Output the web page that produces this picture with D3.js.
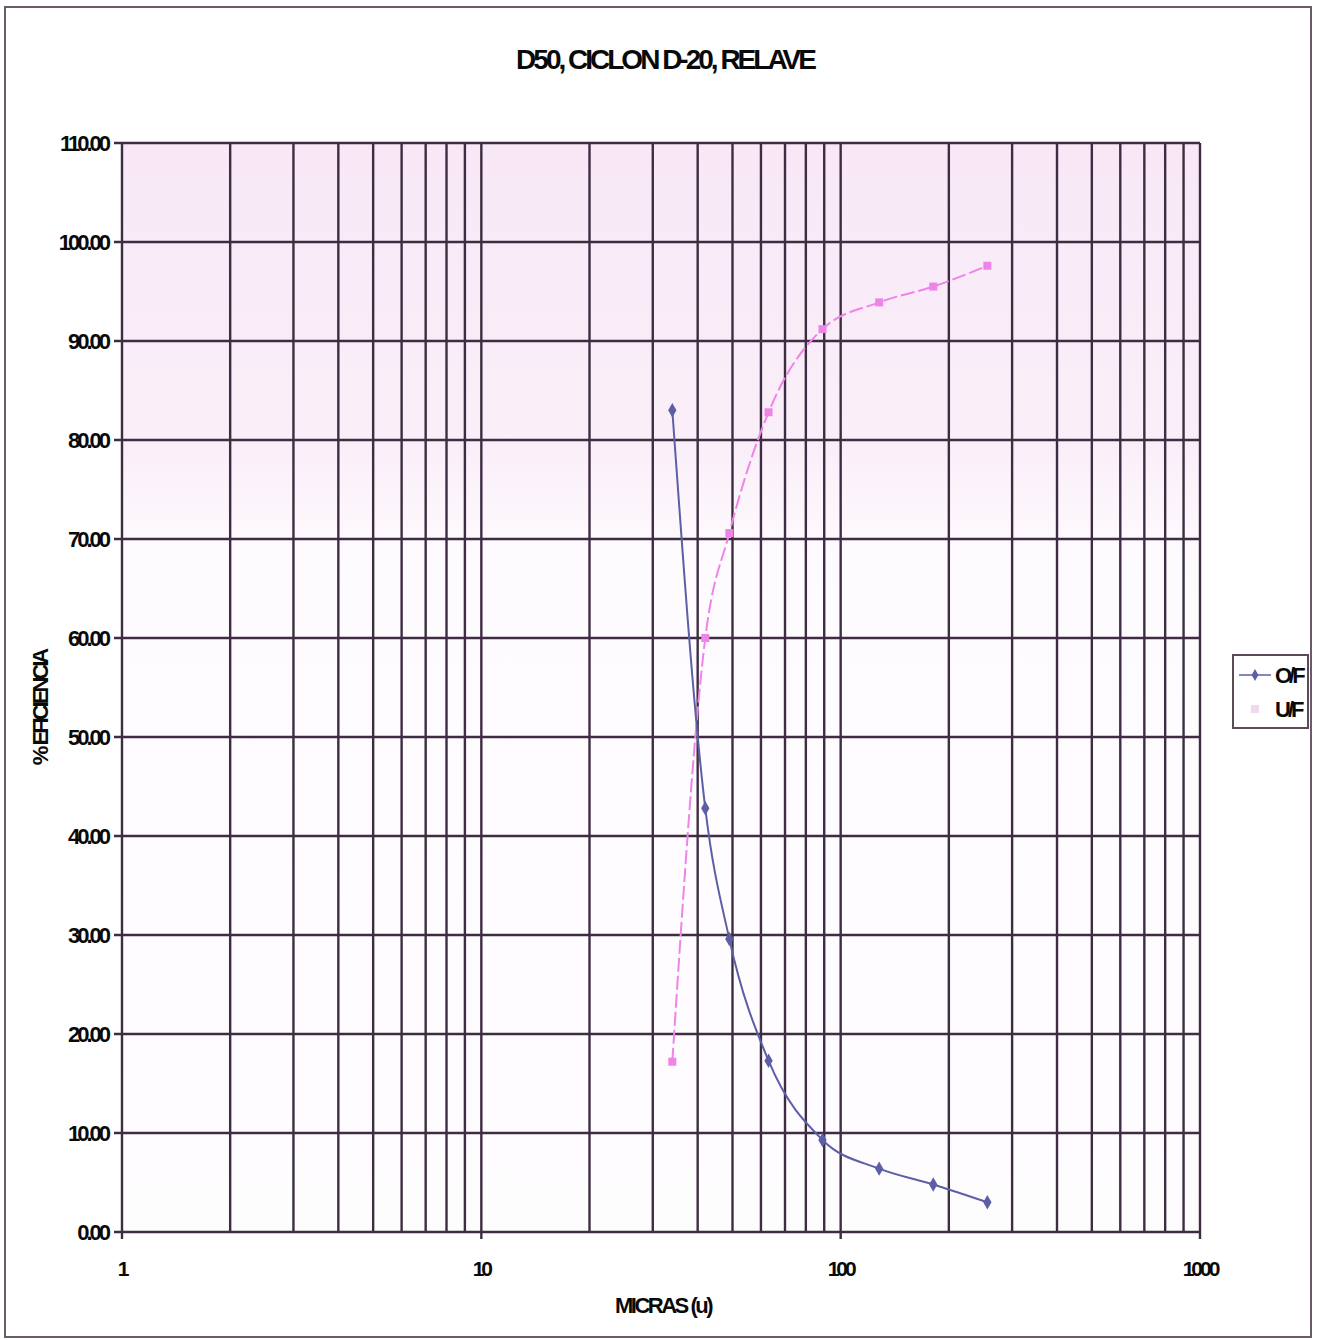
<!DOCTYPE html>
<html>
  <head>
    <meta charset="utf-8" />
    <title>D50, CICLON D-20, RELAVE</title>
    <script src="https://cdn.jsdelivr.net/npm/d3@7"></script>
    <style>
      body { margin: 0; background: #fff; }
      text { font-family: "Liberation Sans", Arial, sans-serif; font-weight: bold; fill: #0a0a0a; }
    </style>
  </head>
  <body>
    <script>
// particle size (microns) and efficiency per product
var micras = [34, 42, 49, 63, 89, 128, 181, 256];
var ofVals = [83.0, 42.8, 29.6, 17.3, 9.3, 6.4, 4.8, 3.0];
var ufVals = [17.2, 60.0, 70.6, 82.8, 91.2, 93.9, 95.5, 97.6];
var yTicks = [0, 10, 20, 30, 40, 50, 60, 70, 80, 90, 100, 110];
var xTicks = [1, 10, 100, 1000];

var W = 1321, H = 1340,
    pLeft = 122, pRight = 1200, pTop = 143, pBottom = 1232;

var svg = d3.select("body").append("svg")
  .attr("width", W).attr("height", H);

// outer frame
svg.append("rect")
  .attr("x", 5).attr("y", 7).attr("width", 1306).attr("height", 1330)
  .attr("fill", "#fff").attr("stroke", "#6a5a6a").attr("stroke-width", 2);

var x = d3.scaleLog().domain([1, 1000]).range([pLeft, pRight]);
var y = d3.scaleLinear().domain([0, 110]).range([pBottom, pTop]);

// plot background, pink wash in the upper part
var grad = svg.append("defs").append("linearGradient")
  .attr("id", "bg").attr("x1", 0).attr("y1", 0).attr("x2", 0).attr("y2", 1);
grad.append("stop").attr("offset", "0%").attr("stop-color", "#f8e8f6");
grad.append("stop").attr("offset", "28%").attr("stop-color", "#faeff9");
grad.append("stop").attr("offset", "38%").attr("stop-color", "#fefbfe");
grad.append("stop").attr("offset", "100%").attr("stop-color", "#fefdfe");
svg.append("rect")
  .attr("x", pLeft).attr("y", pTop)
  .attr("width", pRight - pLeft).attr("height", pBottom - pTop)
  .attr("fill", "url(#bg)");

var gridColor = "#3e2d42";

// vertical log grid
var minor = [];
for (var d = 1; d < 1000; d *= 10)
  for (var k = 1; k < 10; k++) minor.push(d * k);
minor.push(1000);

svg.append("g").selectAll("line").data(minor).enter().append("line")
  .attr("x1", function(v) { return x(v); })
  .attr("x2", function(v) { return x(v); })
  .attr("y1", pTop).attr("y2", pBottom)
  .attr("stroke", gridColor).attr("stroke-width", 2.4);

// horizontal grid
svg.append("g").selectAll("line").data(yTicks).enter().append("line")
  .attr("x1", pLeft - 8).attr("x2", pRight)
  .attr("y1", function(v) { return y(v); })
  .attr("y2", function(v) { return y(v); })
  .attr("stroke", gridColor).attr("stroke-width", 2.4);

// x tick marks
svg.append("g").selectAll("line").data(xTicks).enter().append("line")
  .attr("x1", function(v) { return x(v); })
  .attr("x2", function(v) { return x(v); })
  .attr("y1", pBottom).attr("y2", pBottom + 7)
  .attr("stroke", gridColor).attr("stroke-width", 2.4);

// y labels
svg.append("g").selectAll("text").data(yTicks).enter().append("text")
  .attr("x", 108)
  .attr("y", function(v) { return y(v) + 8; })
  .attr("text-anchor", "end")
  .attr("font-size", 22)
  .attr("letter-spacing", -3)
  .text(function(v) { return v.toFixed(2); });

// x labels
svg.append("g").selectAll("text").data(xTicks).enter().append("text")
  .attr("x", function(v) { return x(v); })
  .attr("y", 1276)
  .attr("text-anchor", "middle")
  .attr("font-size", 21)
  .attr("letter-spacing", -3)
  .text(function(v) { return v; });

// titles
svg.append("text")
  .attr("x", 665).attr("y", 69)
  .attr("text-anchor", "middle")
  .attr("font-size", 28).attr("letter-spacing", -3)
  .text("D50, CICLON D-20, RELAVE");

svg.append("text")
  .attr("x", 663).attr("y", 1313)
  .attr("text-anchor", "middle")
  .attr("font-size", 22).attr("letter-spacing", -2.5)
  .text("MICRAS (u)");

svg.append("text")
  .attr("transform", "translate(48,708) rotate(-90)")
  .attr("text-anchor", "middle")
  .attr("font-size", 22).attr("letter-spacing", -3)
  .text("% EFICIENCIA");

// series
var ofColor = "#5c5ea6", ufColor = "#ee84e8";
var line = d3.line()
  .x(function(d) { return x(d[0]); })
  .y(function(d) { return y(d[1]); })
  .curve(d3.curveMonotoneX);

var ofData = micras.map(function(m, i) { return [m, ofVals[i]]; });
var ufData = micras.map(function(m, i) { return [m, ufVals[i]]; });

svg.append("path").datum(ufData).attr("d", line)
  .attr("fill", "none").attr("stroke", ufColor).attr("stroke-width", 2)
  .attr("stroke-dasharray", "14,4");
svg.append("path").datum(ofData).attr("d", line)
  .attr("fill", "none").attr("stroke", ofColor).attr("stroke-width", 2);

svg.append("g").selectAll("rect").data(ufData).enter().append("rect")
  .attr("x", function(d) { return x(d[0]) - 4; })
  .attr("y", function(d) { return y(d[1]) - 4; })
  .attr("width", 8).attr("height", 8)
  .attr("fill", ufColor);

var diamond = d3.symbol().type(d3.symbolDiamond).size(60);
svg.append("g").selectAll("path").data(ofData).enter().append("path")
  .attr("d", diamond)
  .attr("transform", function(d) { return "translate(" + x(d[0]) + "," + y(d[1]) + ")"; })
  .attr("fill", ofColor);

// legend
var lg = svg.append("g").attr("transform", "translate(1233,655)");
lg.append("rect").attr("width", 75).attr("height", 73)
  .attr("fill", "#fff").attr("stroke", "#5a4a5a").attr("stroke-width", 2);
var items = [["O/F", ofColor, "d"], ["U/F", "#f2d8ee", "s"]];
items.forEach(function(it, i) {
  var yy = 20 + i * 34;
  if (it[2] == "d") {
    lg.append("line").attr("x1", 6).attr("x2", 38).attr("y1", yy).attr("y2", yy)
      .attr("stroke", it[1]).attr("stroke-width", 1.5);
    lg.append("path").attr("d", d3.symbol().type(d3.symbolDiamond).size(40))
      .attr("transform", "translate(22," + yy + ")").attr("fill", it[1]);
  } else {
    lg.append("rect").attr("x", 18).attr("y", yy - 4).attr("width", 8).attr("height", 8)
      .attr("fill", it[1]);
  }
  lg.append("text").attr("x", 42).attr("y", yy + 8)
    .attr("font-size", 22).attr("letter-spacing", -3)
    .attr("font-weight", "normal")
    .text(it[0]);
});
    </script>
  </body>
</html>
